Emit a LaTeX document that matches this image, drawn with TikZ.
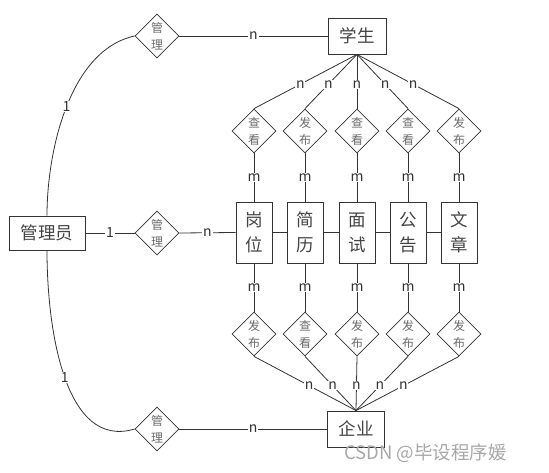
\documentclass[tikz,border=0pt]{standalone}
\usepackage{fontspec}
\setmainfont{Noto Sans CJK SC}
\usetikzlibrary{shapes.geometric}
\definecolor{linecol}{HTML}{333333}
\definecolor{textcol}{HTML}{444444}
\definecolor{relcol}{HTML}{6A6A6A}
\definecolor{labcol}{HTML}{333333}
\definecolor{wmcol}{HTML}{A8A8A8}
\begin{document}
\begin{tikzpicture}[x=1pt,y=-1pt,
  line/.style={draw=linecol, line width=0.8pt},
  ent/.style={draw=linecol, line width=0.9pt, fill=white, text=textcol, font=\fontsize{17.5}{25}\selectfont, inner sep=0pt, align=center},
  vent/.style={ent, minimum width=36pt, minimum height=61pt},
  rel/.style={diamond, draw=linecol, line width=0.8pt, fill=white, text=relcol, font=\fontsize{12}{17}\selectfont, inner sep=0pt, minimum width=44pt, minimum height=44pt, align=center},
  lab/.style={fill=white, inner sep=0.8pt, text=labcol, font=\fontsize{14}{14}\selectfont}
]
\useasboundingbox (0,0) rectangle (549,473);

% entities
\node[ent, minimum width=58pt, minimum height=36pt] (stu) at (357,36) {学生};
\node[ent, minimum width=76pt, minimum height=34pt] (adm) at (47,233) {管理员};
\node[ent, minimum width=57pt, minimum height=36pt] (com) at (356,429) {企业};

\node[vent] (e1) at (254,232.5) {岗\\位};
\node[vent] (e2) at (305,232.5) {简\\历};
\node[vent] (e3) at (357,232.5) {面\\试};
\node[vent] (e4) at (408,232.5) {公\\告};
\node[vent] (e5) at (459,232.5) {文\\章};

% relationships (left)
\node[rel] (r1) at (157,36) {管\\理};
\node[rel] (r2) at (157,233) {管\\理};
\node[rel] (r3) at (157,429) {管\\理};

% top relationships
\node[rel] (t1) at (254,131) {查\\看};
\node[rel] (t2) at (305,131) {发\\布};
\node[rel] (t3) at (357,131) {查\\看};
\node[rel] (t4) at (408,131) {查\\看};
\node[rel] (t5) at (459,131) {发\\布};

% bottom relationships
\node[rel] (b1) at (254,334) {发\\布};
\node[rel] (b2) at (305,334) {查\\看};
\node[rel] (b3) at (357,334) {发\\布};
\node[rel] (b4) at (408,334) {发\\布};
\node[rel] (b5) at (459,334) {发\\布};

% admin connections
\draw[line] (r1.west) .. controls (70,50) and (47,150) .. node[lab, pos=0.5]{1} (adm.north);
\draw[line] (adm.south) .. controls (47,330) and (65,450) .. node[lab, pos=0.5]{1} (r3.west);
\draw[line] (adm.east) -- node[lab]{1} (r2.west);
\draw[line] (r2.east) -- node[lab]{n} (e1.west);
\draw[line] (r1.east) -- node[lab]{n} (stu.west);
\draw[line] (r3.east) -- node[lab]{n} (com.west);

% chain between entities
\draw[line] (e1) -- (e2);
\draw[line] (e2) -- (e3);
\draw[line] (e3) -- (e4);
\draw[line] (e4) -- (e5);

% student fan
\foreach \i in {1,...,5} {
  \draw[line] (stu.south) -- node[lab, pos=0.55]{n} (t\i.north);
  \draw[line] (t\i.south) -- node[lab]{m} (e\i.north);
  \draw[line] (e\i.south) -- node[lab]{m} (b\i.north);
  \draw[line] (b\i.south) -- node[lab, pos=0.54]{n} (com.north);
}

% watermark
\node[text=wmcol, font=\fontsize{18.5}{18.5}\selectfont, anchor=west, inner sep=0pt] (wm) at (344,453) {CSDN @毕设程序媛};
\end{tikzpicture}
\end{document}
